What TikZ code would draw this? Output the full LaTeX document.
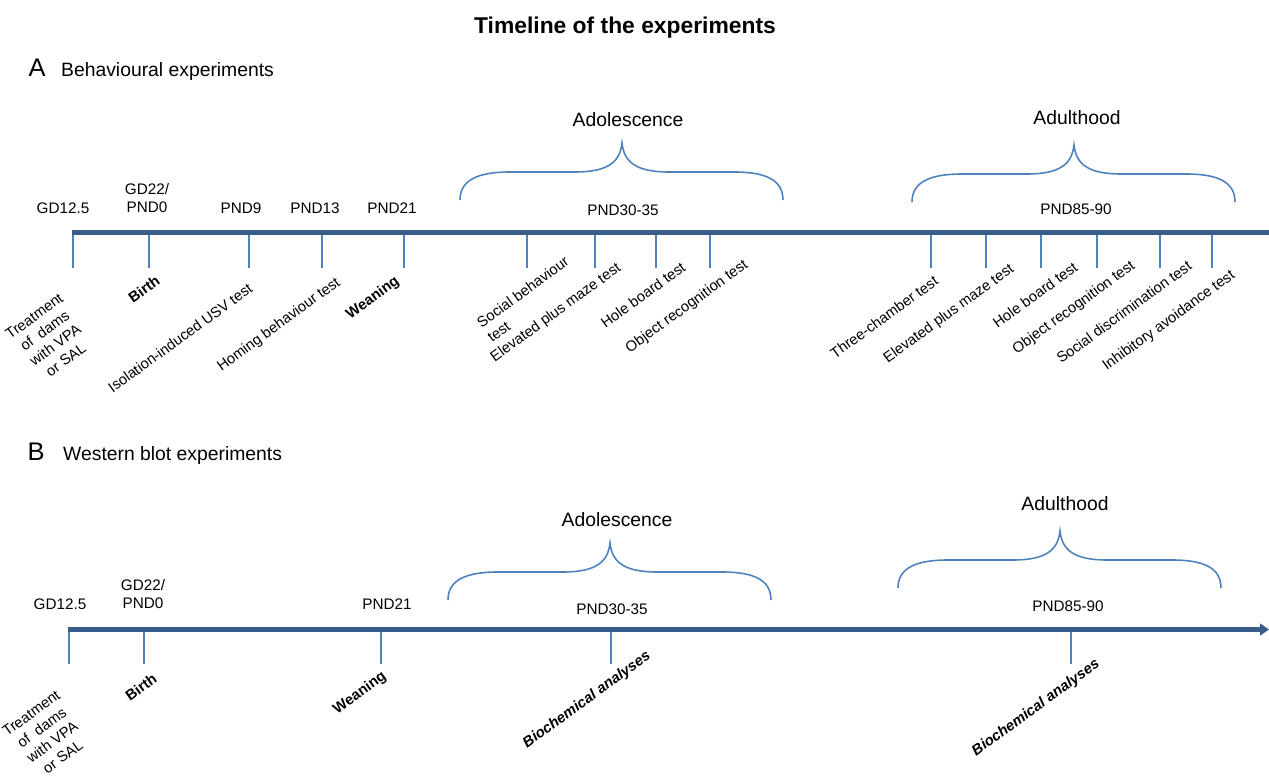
\documentclass[tikz,border=0pt]{standalone}
\usepackage{fontspec}
\setmainfont{Liberation Sans}
\usetikzlibrary{arrows.meta}

\definecolor{axisblue}{RGB}{56,93,138}
\definecolor{tickblue}{RGB}{79,129,189}

\tikzset{
  timeaxis/.style = {line width=3.1pt, draw=axisblue},
  tickline/.style = {line width=0.8pt, draw=tickblue},
  age/.style = {font=\fontsize{8.7}{10}\selectfont, align=center},
  test/.style = {font=\fontsize{8.4}{10.2}\selectfont, rotate=36, align=center, inner sep=0.5pt},
  event/.style = {test, font=\fontsize{8.4}{10.2}\selectfont\bfseries},
  period/.style = {font=\fontsize{11}{13}\selectfont},
  panel/.style = {font=\fontsize{14.5}{16}\selectfont},
  paneltitle/.style = {font=\fontsize{11}{13}\selectfont, anchor=west},
  agebrace/.pic = {
    \draw[line width=0.9pt, tickblue]
      (0,0) .. controls (0,-20) and (18,-28) .. (50,-28) -- (115,-28)
      .. controls (148,-28) and (160,-38) .. (162,-57)
      .. controls (164,-38) and (176,-28) .. (209,-28) -- (274,-28)
      .. controls (306,-28) and (323,-20) .. (323,0);
  }
}

\begin{document}
\begin{tikzpicture}[x=0.02cm, y=-0.02cm]
\useasboundingbox (0,0) rectangle (1269,776);

\node[font=\fontsize{13}{15}\selectfont\bfseries] (title) at (625,28) {Timeline of the experiments};

% A: behavioural experiments
\node[panel] (pa) at (37,68) {A};
\node[paneltitle] (pat) at (55,72) {Behavioural experiments};

\draw[timeaxis] (72,232.5) -- (1275,232.5);

\draw[tickline] (73,235) -- (73,268);
\draw[tickline] (149,235) -- (149,268);
\draw[tickline] (249,235) -- (249,268);
\draw[tickline] (322,235) -- (322,268);
\draw[tickline] (404,235) -- (404,268);
\draw[tickline] (527,235) -- (527,268);
\draw[tickline] (595,235) -- (595,268);
\draw[tickline] (656,235) -- (656,268);
\draw[tickline] (710,235) -- (710,268);
\draw[tickline] (931,235) -- (931,268);
\draw[tickline] (986,235) -- (986,268);
\draw[tickline] (1041,235) -- (1041,268);
\draw[tickline] (1097,235) -- (1097,268);
\draw[tickline] (1160,235) -- (1160,268);
\draw[tickline] (1212,235) -- (1212,268);

\node[age] (agd) at (63,208) {GD12.5};
\node[age] (abirth) at (147,198) {GD22/\\PND0};
\node[age] (apnd9) at (241,208) {PND9};
\node[age] (apnd13) at (315,208) {PND13};
\node[age] (apnd21) at (392,208) {PND21};
\node[age] (apnd30) at (623,210) {PND30-35};
\node[age] (apnd85) at (1076,209) {PND85-90};

\pic at (460,200) {agebrace};
\pic at (912,202) {agebrace};
\node[period] (aadol) at (628,120) {Adolescence};
\node[period] (aadult) at (1077,118) {Adulthood};

\node[test] (atreat) at (50,338) {Treatment\\of\ \ dams\\with VPA\\or SAL};
\node[event] (abirthl) at (144,289) {Birth};
\node[test] (ausv) at (180,338) {Isolation-induced USV test};
\node[test] (ahoming) at (279,325) {Homing behaviour test};
\node[event] (awean) at (373,298) {Weaning};

\node[test, align=left] (asocial) at (528,299) {Social behaviour\\test};
\node[test] (aepm) at (556,313) {Elevated plus maze test};
\node[test] (ahole) at (643,295) {Hole board test};
\node[test] (aobject) at (687,307) {Object recognition test};

\node[test] (athree) at (884,317) {Three-chamber test};
\node[test] (aepm2) at (949,314) {Elevated plus maze test};
\node[test] (ahole2) at (1035,295) {Hole board test};
\node[test] (aobject2) at (1074,308) {Object recognition test};
\node[test] (adiscr) at (1124,312) {Social discrimination test};
\node[test] (aavoid) at (1169,321) {Inhibitory avoidance test};

% B: western blot experiments
\node[panel] (pb) at (36,452) {B};
\node[paneltitle] (pbt) at (57,456) {Western blot experiments};

\draw[timeaxis, -{Triangle[length=5pt, width=6.5pt]}] (68,629.5) -- (1269,629.5);

\draw[tickline] (69,632) -- (69,664);
\draw[tickline] (144,632) -- (144,664);
\draw[tickline] (381,632) -- (381,664);
\draw[tickline] (611,632) -- (611,664);
\draw[tickline] (1071,632) -- (1071,664);

\node[age] (bgd) at (60,604) {GD12.5};
\node[age] (bbirth) at (143,594) {GD22/\\PND0};
\node[age] (bpnd21) at (387,604) {PND21};
\node[age] (bpnd30) at (612,609) {PND30-35};
\node[age] (bpnd85) at (1068,606) {PND85-90};

\pic at (448,600) {agebrace};
\pic at (898,588) {agebrace};
\node[period] (badol) at (617,520) {Adolescence};
\node[period] (badult) at (1065,504) {Adulthood};

\node[test] (btreat) at (47,735) {Treatment\\of\ \ dams\\with VPA\\or SAL};
\node[event] (bbirthl) at (141,687) {Birth};
\node[event] (bwean) at (360,693) {Weaning};
\node[event, font=\fontsize{8.4}{10.2}\selectfont\bfseries\itshape] (bbio) at (587,700) {Biochemical analyses};
\node[event, font=\fontsize{8.4}{10.2}\selectfont\bfseries\itshape] (bbio2) at (1036,708) {Biochemical analyses};

\end{tikzpicture}
\end{document}
